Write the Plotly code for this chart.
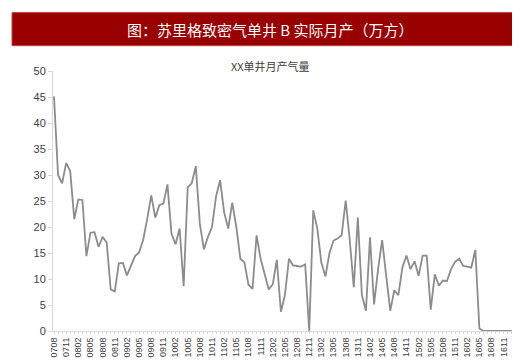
import plotly.graph_objects as go

# Months 0708 .. 1701 (YYMM)
months = []
for y in range(7, 18):
    for m in range(1, 13):
        if (y == 7 and m < 8) or (y == 17 and m > 1):
            continue
        months.append(f"{y:02d}{m:02d}")

values = [
    45.1, 30.0, 28.4, 32.3, 30.7, 21.5, 25.3, 25.2, 14.4, 18.9,
    19.0, 16.2, 18.1, 17.0, 8.0, 7.6, 13.0, 13.1, 10.7, 12.5,
    14.4, 15.1, 17.5, 21.5, 26.1, 21.8, 24.2, 24.5, 28.2, 18.7,
    16.7, 19.7, 8.6, 27.6, 28.4, 31.7, 20.6, 15.7, 18.1, 20.0,
    25.9, 29.0, 22.8, 19.7, 24.7, 20.0, 13.9, 13.2, 8.9, 8.1,
    18.4, 13.9, 11.2, 8.0, 9.0, 13.7, 3.7, 6.9, 13.9, 12.6,
    12.5, 12.4, 12.8, 0.0, 23.2, 19.7, 13.1, 10.5, 15.0, 17.4,
    17.8, 18.4, 25.1, 17.5, 8.4, 21.8, 6.9, 3.9, 18.0, 5.1,
    11.9, 17.5, 10.6, 3.9, 7.8, 6.9, 12.2, 14.5, 11.9, 13.4,
    10.6, 14.5, 14.5, 4.1, 10.9, 8.7, 9.7, 9.6, 11.9, 13.3,
    13.9, 12.5, 12.4, 12.2, 15.6, 0.5, 0.0, 0.0, 0.0, 0.0,
    0.0, 0.0, 0.0, 0.0,
]

tick_labels = [mo if i % 3 == 0 and i <= 111 else "" for i, mo in enumerate(months)]
y_ticks = [0, 5, 10, 15, 20, 25, 30, 35, 40, 45, 50]

banner_title = "图：苏里格致密气单井 B 实际月产（万方）"
chart_title = "XX单井月产气量"

fig = go.Figure()
fig.add_trace(go.Scatter(
    x=months, y=values[:len(months)], mode="lines",
    line=dict(color="#8c8c8c", width=1.8),
    hoverinfo="x+y",
))

W, H = 520, 362
L, R, T, B = 45, 15, 63, 32
pw, ph = W - L - R, H - T - B

def px_x(px):
    return (px - L) / pw

def px_y(py):
    return (H - B - py) / ph

fig.update_layout(
    width=W, height=H, autosize=False,
    margin=dict(l=L, r=R, t=T, b=B),
    paper_bgcolor="white", plot_bgcolor="white",
    showlegend=False,
    font=dict(family="Liberation Sans, Arial, sans-serif", color="#404040"),
    xaxis=dict(
        type="category",
        tickmode="array", tickvals=months, ticktext=tick_labels,
        tickangle=-90, tickfont=dict(size=9, color="#404040"),
        range=[-0.25, len(months) - 0.7],
        showline=True, linecolor="#d9d9d9", linewidth=1,
        ticks="outside", ticklen=2, tickcolor="#d9d9d9",
        showgrid=False, zeroline=False,
    ),
    yaxis=dict(
        range=[0, 50], tickvals=y_ticks,
        tickfont=dict(size=11, color="#404040"),
        showline=True, linecolor="#d9d9d9", linewidth=1,
        ticks="outside", ticklen=4, tickcolor="#d9d9d9",
        showgrid=False, zeroline=False,
    ),
    shapes=[dict(
        type="rect", xref="paper", yref="paper",
        x0=px_x(4), x1=px_x(521), y0=px_y(37), y1=px_y(3),
        fillcolor="#990000", line=dict(color="#b84a4a", width=1),
        layer="above",
    )],
    annotations=[
        dict(text=banner_title, xref="paper", yref="paper",
             x=px_x(262), y=px_y(20), xanchor="center", yanchor="middle",
             showarrow=False,
             font=dict(family="Noto Sans CJK SC", size=15, color="white")),
        dict(text=chart_title, xref="paper", yref="paper",
             x=px_x(262), y=px_y(58), xanchor="center", yanchor="middle",
             showarrow=False,
             font=dict(family="Noto Sans CJK SC", size=11, color="#404040")),
    ],
)

fig.write_html("out.html")
